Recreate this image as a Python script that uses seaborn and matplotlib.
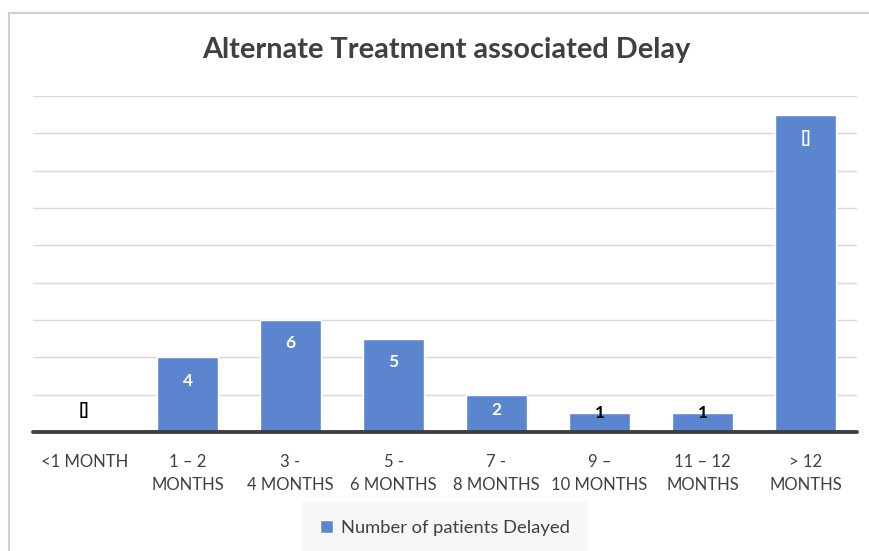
import matplotlib
matplotlib.use("Agg")
import matplotlib.pyplot as plt
import seaborn as sns
import pandas as pd
from matplotlib.lines import Line2D

categories = ["<1 MONTH", "1 \u2013 2\nMONTHS", "3 -\n4 MONTHS", "5 -\n6 MONTHS",
              "7 -\n8 MONTHS", "9 \u2013\n10 MONTHS", "11 \u2013 12\nMONTHS", "> 12\nMONTHS"]
values = [0, 4, 6, 5, 2, 1, 1, 17]
value_labels = ["[]", "4", "6", "5", "2", "1", "1", "[]"]
series_name = "Number of patients Delayed"
title = "Alternate Treatment associated Delay"

sns.set_theme(style="white")
plt.rcParams['font.family'] = ['Lato', 'DejaVu Sans']

df = pd.DataFrame({"cat": categories, "val": values})

W, H = 869, 551
fig = plt.figure(figsize=(W / 100, H / 100), dpi=100)
ax = fig.add_axes([33 / W, 1 - 432 / H, (857 - 33) / W, (432 - 96) / H])

bar_color = "#5B86CF"
sns.barplot(data=df, x="cat", y="val", color=bar_color, width=0.6, ax=ax,
            label=series_name, saturation=1, zorder=3)
handles, labels = ax.get_legend_handles_labels()
if ax.get_legend() is not None:
    ax.get_legend().remove()

ax.set_ylim(0, 18)
ax.set_xlim(-0.5, len(categories) - 0.5)
ax.set_yticks(range(0, 19, 2))
ax.set_yticklabels([])
ax.grid(axis="y", color="#D9D9D9", linewidth=1, zorder=0)
ax.set_axisbelow(True)
for s in ax.spines.values():
    s.set_visible(False)
ax.axhline(0, color="#404040", linewidth=2.8, zorder=4, clip_on=False)
ax.set_xlabel("")
ax.set_ylabel("")
ax.tick_params(axis="x", length=0, pad=16, labelsize=12, colors="#404040")
for t in ax.get_xticklabels():
    t.set_linespacing(1.5)
ax.tick_params(axis="y", length=0)

for i, (v, lab) in enumerate(zip(values, value_labels)):
    if v >= 3:
        ax.text(i, v - 1.25, lab, ha="center", va="center", color="white",
                fontsize=12.5, fontweight="bold", zorder=5)
    elif v == 2:
        ax.text(i, v * 0.58, lab, ha="center", va="center", color="white",
                fontsize=12.5, fontweight="bold", zorder=5)
    elif v == 1:
        ax.text(i, v, lab, ha="center", va="center", color="black",
                fontsize=12.5, fontweight="bold", zorder=5)
    else:
        ax.text(i, v + 1.2, lab, ha="center", va="center", color="black",
                fontsize=12.5, fontweight="bold", zorder=5)

fig.text(446 / W, 1 - 50 / H, title, ha="center", va="center",
         fontsize=20.8, fontweight="bold", color="#404040")

leg = fig.legend(handles, labels, loc="center", bbox_to_anchor=(445 / W, 1 - 528 / H),
                 frameon=True, fancybox=False, facecolor="#F5F5F5", edgecolor="none",
                 fontsize=13.2, handlelength=0.7, handleheight=0.7, handletextpad=0.4,
                 borderpad=1.0, borderaxespad=0, labelcolor="#404040")
leg.get_frame().set_boxstyle("square", pad=0)

y_top = 1 - 12.5 / H
x_left = 8.5 / W
fig.add_artist(Line2D([x_left, 1], [y_top, y_top], transform=fig.transFigure,
                      color="#D0D0D0", linewidth=1.5))
fig.add_artist(Line2D([x_left, x_left], [0, y_top], transform=fig.transFigure,
                      color="#D0D0D0", linewidth=1.5))

fig.savefig("out.png", dpi=100)
